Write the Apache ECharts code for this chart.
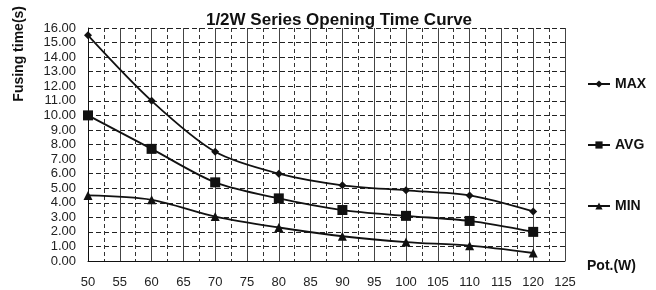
<!DOCTYPE html>
<html>
<head>
<meta charset="utf-8">
<script src="https://cdn.jsdelivr.net/npm/echarts@6/dist/echarts.min.js"></script>
<style>
  html, body { margin: 0; padding: 0; background: #fff; }
  #chart { width: 656px; height: 290px; }
</style>
</head>
<body>
<div id="chart"></div>
<script>
// power (W) and fusing time (s)
var power = [50, 60, 70, 80, 90, 100, 110, 120];
var maxTime = [15.5, 11.0, 7.5, 6.0, 5.2, 4.85, 4.5, 3.4];
var avgTime = [10.0, 7.7, 5.4, 4.3, 3.5, 3.1, 2.75, 2.0];
var minTime = [4.5, 4.2, 3.05, 2.3, 1.7, 1.3, 1.05, 0.55];

function pairs(vals) {
  return power.map(function (p, i) { return [p, vals[i]]; });
}

var font = 'Liberation Sans';
var chart = echarts.init(document.getElementById('chart'));

var option = {
  animation: false,
  title: {
    text: '1/2W Series Opening Time Curve',
    left: 334,
    textAlign: 'center',
    top: 7,
    textStyle: { fontFamily: font, fontSize: 17, fontWeight: 'bold', color: '#111' }
  },
  // y axis title, placed by hand like in the original
  graphic: [{
    type: 'text',
    left: 12,
    top: 6,
    rotation: Math.PI / 2,
    style: {
      text: 'Fusing time(s)',
      font: 'bold 14px "Liberation Sans"',
      fill: '#111'
    }
  }],
  grid: { left: 88, right: 91, top: 28, bottom: 29 },
  legend: {
    orient: 'vertical',
    left: 587,
    top: 77,
    padding: 0,
    itemGap: 47,
    itemWidth: 22,
    itemHeight: 9,
    textStyle: { fontFamily: font, fontSize: 14, fontWeight: 'bold', color: '#111' },
    data: ['MAX', 'AVG', 'MIN']
  },
  xAxis: {
    type: 'value',
    min: 50,
    max: 125,
    interval: 5,
    name: 'Pot.(W)',
    nameLocation: 'end',
    nameGap: 22,
    nameTextStyle: { fontFamily: font, fontSize: 14, fontWeight: 'bold', color: '#111', verticalAlign: 'top', padding: [-2, 0, 0, 0] },
    axisLine: { lineStyle: { color: '#111', width: 1 } },
    axisTick: { show: false },
    axisLabel: { fontFamily: font, fontSize: 13, color: '#222', margin: 15 },
    splitLine: { show: true, lineStyle: { color: '#444', width: 1, type: 'solid' } },
    minorTick: { show: false, splitNumber: 2 },
    minorSplitLine: { show: true, lineStyle: { color: '#333', width: 1, type: [4, 3] } }
  },
  yAxis: {
    type: 'value',
    min: 0,
    max: 16,
    interval: 1,
    axisLine: { show: true, lineStyle: { color: '#111', width: 1 } },
    axisTick: { show: false },
    axisLabel: {
      fontFamily: font, fontSize: 13, color: '#222', margin: 12,
      formatter: function (v) { return v.toFixed(2); }
    },
    splitLine: { show: true, lineStyle: { color: '#222', width: 1, type: [5, 3] } }
  },
  series: [
    {
      name: 'MAX', type: 'line', smooth: 0.3, data: pairs(maxTime),
      symbol: 'diamond', symbolSize: 8,
      lineStyle: { color: '#111', width: 1.8 }, itemStyle: { color: '#111' }
    },
    {
      name: 'AVG', type: 'line', smooth: 0.3, data: pairs(avgTime),
      symbol: 'rect', symbolSize: 10,
      lineStyle: { color: '#111', width: 1.8 }, itemStyle: { color: '#111' }
    },
    {
      name: 'MIN', type: 'line', smooth: 0.3, data: pairs(minTime),
      symbol: 'triangle', symbolSize: 9,
      lineStyle: { color: '#111', width: 1.8 }, itemStyle: { color: '#111' }
    }
  ]
};

chart.setOption(option);
</script>
</body>
</html>
